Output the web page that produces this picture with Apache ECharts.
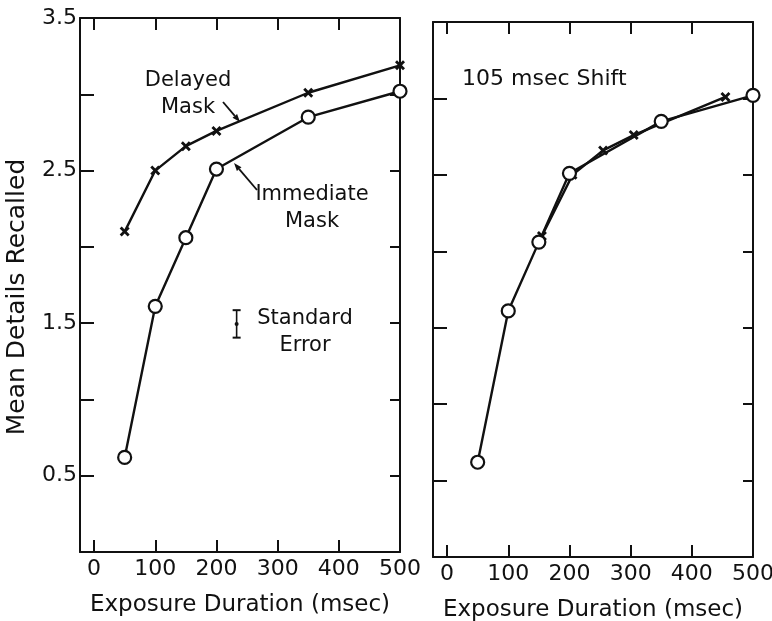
<!DOCTYPE html>
<html>
<head>
<meta charset="utf-8">
<script src="https://cdn.jsdelivr.net/npm/echarts@6/dist/echarts.min.js"></script>
<style>
  html, body { margin: 0; padding: 0; background: #fff; }
  #chart { width: 772px; height: 621px; }
</style>
</head>
<body>
<div id="chart"></div>
<script>
// exposure durations (msec) and mean details recalled
const durations = [50, 100, 150, 200, 350, 500];
const immediateMask = [0.62, 1.61, 2.06, 2.51, 2.85, 3.02];
const delayedMask = [2.10, 2.50, 2.66, 2.76, 3.01, 3.19];
// delayed mask curve shifted by 105 msec (right panel)
const shiftedDurations = [155, 205, 255, 305, 455];
const shiftedDelayed = [2.10, 2.50, 2.66, 2.76, 3.01];
// standard error bar: [x, centre, half-width]
const stdError = [[233, 1.495, 0.09]];

const xTicks = [0, 100, 200, 300, 400, 500];
const yLabelTicks = [0.5, 1.5, 2.5, 3.5];

const FONT = 'DejaVu Sans';
const INK = '#111';

function pairs(xs, ys) {
  return xs.map((x, i) => [x, ys[i]]);
}

const crossPath = 'path://M2,0L5,3L8,0L10,2L7,5L10,8L8,10L5,7L2,10L0,8L3,5L0,2Z';

function xAxisPair(gridIndex) {
  const common = {
    type: 'value', gridIndex, min: -23, max: 500,
    splitLine: { show: false },
    axisLine: { show: true, onZero: false, lineStyle: { color: INK, width: 2 } }
  };
  return [
    {
      ...common, position: 'bottom',
      axisTick: { inside: true, length: 12, customValues: xTicks, lineStyle: { color: INK, width: 2 } },
      axisLabel: { customValues: xTicks, color: INK, fontFamily: FONT, fontSize: 22, margin: 6 },
      name: 'Exposure Duration (msec)', nameLocation: 'middle', nameGap: 42,
      nameTextStyle: { color: INK, fontFamily: FONT, fontSize: 23 }
    },
    {
      ...common, position: 'top',
      axisTick: { inside: true, length: 12, customValues: xTicks, lineStyle: { color: INK, width: 2 } },
      axisLabel: { show: false }
    }
  ];
}

function yAxisPair(gridIndex, showLabels) {
  const common = {
    type: 'value', gridIndex, min: 0, max: 3.5, interval: 0.5,
    splitLine: { show: false },
    axisLine: { show: true, onZero: false, lineStyle: { color: INK, width: 2 } }
  };
  return [
    {
      ...common, position: 'left',
      axisTick: { inside: true, length: 14, lineStyle: { color: INK, width: 2 } },
      axisLabel: {
        show: showLabels, color: INK, fontFamily: FONT, fontSize: 22, margin: 3,
        formatter: v => (yLabelTicks.indexOf(v) >= 0 ? v.toFixed(1) : '')
      }
    },
    {
      ...common, position: 'right',
      axisTick: { inside: true, length: 10, lineStyle: { color: INK, width: 2 } },
      axisLabel: { show: false }
    }
  ];
}

function lineSeries(data, xi, yi, isCircle) {
  return {
    type: 'line', data, xAxisIndex: xi, yAxisIndex: yi,
    symbol: isCircle ? 'circle' : crossPath,
    symbolSize: isCircle ? 13 : 10,
    showSymbol: true,
    lineStyle: { color: INK, width: 2.4 },
    itemStyle: isCircle ? { color: '#fff', borderColor: INK, borderWidth: 2.2 } : { color: INK, borderWidth: 0 },
    z: isCircle ? 3 : 2,
    animation: false
  };
}

function textEl(text, x, y, size, align) {
  return {
    type: 'text', x, y,
    style: { text, fill: INK, font: size + 'px "' + FONT + '"', textAlign: align || 'center', textVerticalAlign: 'top', lineHeight: 27 }
  };
}

function arrowEl(x1, y1, x2, y2) {
  const ang = Math.atan2(y2 - y1, x2 - x1);
  const len = 8, w = 3;
  const bx = x2 - len * Math.cos(ang), by = y2 - len * Math.sin(ang);
  const px = -Math.sin(ang) * w, py = Math.cos(ang) * w;
  return [
    { type: 'line', shape: { x1, y1, x2: bx, y2: by }, style: { stroke: INK, lineWidth: 1.8 } },
    { type: 'polygon', shape: { points: [[x2, y2], [bx + px, by + py], [bx - px, by - py]] }, style: { fill: INK } }
  ];
}

const chart = echarts.init(document.getElementById('chart'), null, { renderer: 'canvas' });

chart.setOption({
  backgroundColor: '#fff',
  animation: false,
  grid: [
    { left: 80, top: 18, width: 320, height: 534, outerBoundsMode: 'none' },
    { left: 433, top: 22, width: 320, height: 535, outerBoundsMode: 'none' }
  ],
  xAxis: [...xAxisPair(0), ...xAxisPair(1)],
  yAxis: [...yAxisPair(0, true), ...yAxisPair(1, false)],
  series: [
    lineSeries(pairs(durations, delayedMask), 0, 0, false),
    lineSeries(pairs(durations, immediateMask), 0, 0, true),
    lineSeries(pairs(shiftedDurations, shiftedDelayed), 2, 2, false),
    lineSeries(pairs(durations, immediateMask), 2, 2, true),
    {
      type: 'custom', xAxisIndex: 0, yAxisIndex: 0, data: stdError,
      renderItem: function (params, api) {
        const x = api.value(0), c = api.value(1), h = api.value(2);
        const top = api.coord([x, c + h]);
        const bot = api.coord([x, c - h]);
        const mid = api.coord([x, c]);
        const cap = 4;
        return {
          type: 'group',
          children: [
            { type: 'line', shape: { x1: top[0], y1: top[1], x2: bot[0], y2: bot[1] }, style: { stroke: INK, lineWidth: 1.6 } },
            { type: 'line', shape: { x1: top[0] - cap, y1: top[1], x2: top[0] + cap, y2: top[1] }, style: { stroke: INK, lineWidth: 2 } },
            { type: 'line', shape: { x1: bot[0] - cap, y1: bot[1], x2: bot[0] + cap, y2: bot[1] }, style: { stroke: INK, lineWidth: 2 } },
            { type: 'circle', shape: { cx: mid[0], cy: mid[1], r: 2 }, style: { fill: INK } }
          ]
        };
      },
      animation: false
    }
  ],
  graphic: [
    {
      type: 'text', x: 17, y: 297, rotation: Math.PI / 2,
      style: { text: 'Mean Details Recalled', fill: INK, font: '25px "' + FONT + '"', textAlign: 'center', textVerticalAlign: 'middle' }
    },
    textEl('Delayed\nMask', 188, 67, 21),
    textEl('Immediate\nMask', 312, 181, 21),
    textEl('Standard\nError', 305, 305, 21),
    textEl('105 msec Shift', 462, 66, 22, 'left'),
    ...arrowEl(223, 102, 240, 122),
    ...arrowEl(257, 190, 234, 163)
  ]
});
</script>
</body>
</html>
